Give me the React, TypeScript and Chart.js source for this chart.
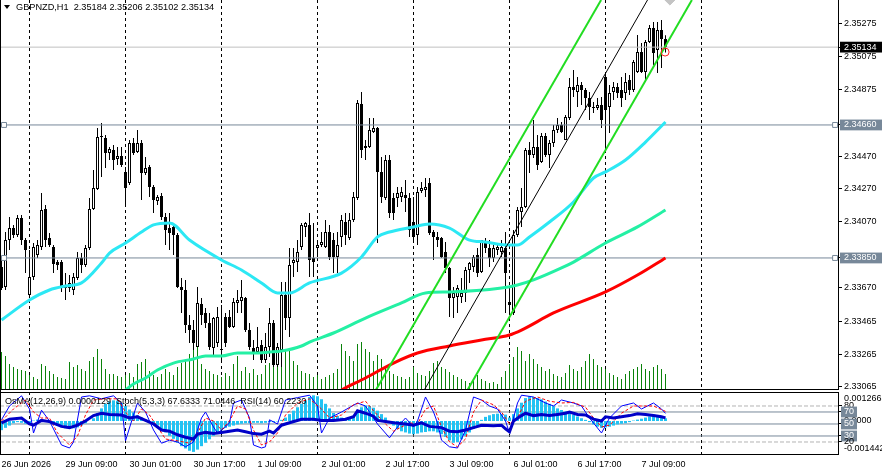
import React, { useEffect, useRef } from 'react';
import { Chart, registerables } from 'chart.js';

Chart.register(...registerables);

const FONT = "'Liberation Sans', Arial, sans-serif";

// ---- Candles GBPNZD H1 (bar 0 = 26 Jun 17:00) ----
const opens = [
  2.33795, 2.33673, 2.33959, 2.34032, 2.33990, 2.34093, 2.33959, 2.33624, 2.33734, 2.33868,
  2.33917, 2.34148, 2.33972, 2.33917, 2.33825, 2.33825, 2.33685, 2.33667, 2.33655, 2.33728,
  2.33850, 2.33807, 2.33911, 2.34148, 2.34270, 2.34587, 2.34581, 2.34489, 2.34507, 2.34453,
  2.34471, 2.34374, 2.34307, 2.34550, 2.34495, 2.34550, 2.34367, 2.34404, 2.34282, 2.34197,
  2.34227, 2.34099, 2.34032, 2.34039, 2.33990, 2.33673, 2.33655, 2.33442, 2.33411, 2.33308,
  2.33570, 2.33515, 2.33454, 2.33302, 2.33332, 2.33289, 2.33490, 2.33490, 2.33430, 2.33576,
  2.33588, 2.33606, 2.33411, 2.33302, 2.33277, 2.33320, 2.33229, 2.33308, 2.33454, 2.33198,
  2.33289, 2.33624, 2.33484, 2.33819, 2.33825, 2.33917, 2.34039, 2.34051, 2.33850, 2.33911,
  2.33929, 2.33917, 2.34008, 2.33959, 2.33856, 2.33978, 2.34069, 2.33972, 2.34081, 2.34215,
  2.34788, 2.34520, 2.34526, 2.34617, 2.34641, 2.34374, 2.34215, 2.34447, 2.34215, 2.34215,
  2.34221, 2.34233, 2.34215, 2.34069, 2.33990, 2.34258, 2.34264, 2.34307, 2.34008, 2.33978,
  2.33972, 2.33886, 2.33789, 2.33606, 2.33612, 2.33612, 2.33637, 2.33777, 2.33795, 2.33868,
  2.33765, 2.33947, 2.33911, 2.33850, 2.33898, 2.33886, 2.33911, 2.33582, 2.33515, 2.33990,
  2.34130, 2.34160, 2.34507, 2.34477, 2.34526, 2.34434, 2.34593, 2.34477, 2.34550, 2.34629,
  2.34660, 2.34568, 2.34702, 2.34891, 2.34861, 2.34903, 2.34873, 2.34824, 2.34769, 2.34763,
  2.34782, 2.34952, 2.34769, 2.34861, 2.34891, 2.34873, 2.34855, 2.34934, 2.34873, 2.34983,
  2.35104, 2.34983, 2.35165, 2.35250, 2.35116, 2.35238, 2.35184,
];
const highs = [
  2.33856, 2.34008, 2.34099, 2.34051, 2.34112, 2.34112, 2.33972, 2.33898, 2.33941, 2.33959,
  2.34246, 2.34173, 2.34002, 2.33929, 2.33838, 2.33838, 2.33758, 2.33746, 2.33758, 2.33886,
  2.33880, 2.33929, 2.34215, 2.34386, 2.34641, 2.34672, 2.34599, 2.34526, 2.34538, 2.34526,
  2.34526, 2.34404, 2.34568, 2.34581, 2.34629, 2.34568, 2.34465, 2.34416, 2.34294, 2.34233,
  2.34246, 2.34124, 2.34124, 2.34063, 2.34002, 2.33728, 2.33716, 2.33503, 2.33472, 2.33673,
  2.33606, 2.33545, 2.33515, 2.33490, 2.33551, 2.33564, 2.33515, 2.33533, 2.33606, 2.33655,
  2.33716, 2.33612, 2.33454, 2.33350, 2.33430, 2.33350, 2.33393, 2.33545, 2.33472, 2.33332,
  2.33704, 2.33704, 2.33911, 2.33911, 2.33959, 2.34063, 2.34069, 2.34124, 2.34063, 2.33959,
  2.34008, 2.34081, 2.34051, 2.34002, 2.34008, 2.34112, 2.34124, 2.34124, 2.34252, 2.34812,
  2.34861, 2.34568, 2.34702, 2.34702, 2.34648, 2.34465, 2.34477, 2.34477, 2.34246, 2.34282,
  2.34282, 2.34325, 2.34246, 2.34221, 2.34282, 2.34313, 2.34337, 2.34337, 2.34020, 2.34008,
  2.33978, 2.33947, 2.33795, 2.33673, 2.33685, 2.33728, 2.33795, 2.33825, 2.33868, 2.33911,
  2.33959, 2.33972, 2.33959, 2.33929, 2.33929, 2.33959, 2.34008, 2.33673, 2.34020, 2.34160,
  2.34276, 2.34520, 2.34556, 2.34690, 2.34599, 2.34611, 2.34611, 2.34568, 2.34660, 2.34702,
  2.34678, 2.34721, 2.34946, 2.34995, 2.34952, 2.34922, 2.34885, 2.34861, 2.34800, 2.34824,
  2.34830, 2.34964, 2.34903, 2.34922, 2.34916, 2.34952, 2.34976, 2.34964, 2.35056, 2.35208,
  2.35159, 2.35177, 2.35269, 2.35287, 2.35287, 2.35299, 2.35206,
];
const lows = [
  2.33655, 2.33655, 2.33898, 2.33972, 2.33978, 2.33929, 2.33758, 2.33606, 2.33716, 2.33850,
  2.33898, 2.33917, 2.33917, 2.33758, 2.33777, 2.33643, 2.33594, 2.33643, 2.33624, 2.33716,
  2.33758, 2.33795, 2.33898, 2.34142, 2.34264, 2.34343, 2.34398, 2.34447, 2.34386, 2.34416,
  2.34404, 2.34160, 2.34294, 2.34477, 2.34489, 2.34203, 2.34355, 2.34221, 2.34124, 2.34173,
  2.34081, 2.33929, 2.33898, 2.33868, 2.33667, 2.33515, 2.33393, 2.33332, 2.33289, 2.33308,
  2.33442, 2.33423, 2.33289, 2.33259, 2.33308, 2.33229, 2.33308, 2.33423, 2.33423, 2.33515,
  2.33515, 2.33399, 2.33289, 2.33229, 2.33271, 2.33210, 2.33210, 2.33247, 2.33186, 2.33186,
  2.33186, 2.33411, 2.33369, 2.33734, 2.33765, 2.33898, 2.33978, 2.33734, 2.33734, 2.33856,
  2.33917, 2.33911, 2.33838, 2.33758, 2.33758, 2.33917, 2.33929, 2.33959, 2.34069, 2.34203,
  2.34459, 2.34447, 2.34520, 2.34611, 2.33941, 2.34185, 2.34203, 2.34093, 2.34081, 2.34160,
  2.34191, 2.34130, 2.33978, 2.33941, 2.33929, 2.34246, 2.34221, 2.33990, 2.33838, 2.33917,
  2.33850, 2.33758, 2.33490, 2.33484, 2.33515, 2.33576, 2.33582, 2.33698, 2.33765, 2.33734,
  2.33758, 2.33880, 2.33795, 2.33825, 2.33868, 2.33856, 2.33515, 2.33521, 2.33503, 2.33978,
  2.34039, 2.34154, 2.34367, 2.34459, 2.34386, 2.34428, 2.34465, 2.34398, 2.34526, 2.34611,
  2.34611, 2.34568, 2.34690, 2.34830, 2.34769, 2.34782, 2.34751, 2.34690, 2.34733, 2.34751,
  2.34641, 2.34507, 2.34611, 2.34812, 2.34824, 2.34769, 2.34812, 2.34842, 2.34861, 2.34976,
  2.34976, 2.34922, 2.35159, 2.35025, 2.34976, 2.35007, 2.35102,
];
const closes = [
  2.33667, 2.33959, 2.34032, 2.33990, 2.34093, 2.33959, 2.33898, 2.33734, 2.33917, 2.33929,
  2.34142, 2.33959, 2.33929, 2.33813, 2.33807, 2.33667, 2.33667, 2.33698, 2.33734, 2.33850,
  2.33807, 2.33911, 2.34148, 2.34276, 2.34587, 2.34593, 2.34489, 2.34514, 2.34447, 2.34471,
  2.34416, 2.34276, 2.34550, 2.34489, 2.34550, 2.34367, 2.34398, 2.34282, 2.34203, 2.34221,
  2.34099, 2.34020, 2.34002, 2.33990, 2.33673, 2.33655, 2.33442, 2.33411, 2.33332, 2.33576,
  2.33503, 2.33454, 2.33308, 2.33484, 2.33490, 2.33296, 2.33332, 2.33430, 2.33582, 2.33594,
  2.33612, 2.33411, 2.33308, 2.33277, 2.33308, 2.33229, 2.33308, 2.33454, 2.33198, 2.33308,
  2.33624, 2.33484, 2.33807, 2.33838, 2.33886, 2.34051, 2.34063, 2.33838, 2.33825, 2.33929,
  2.33947, 2.34008, 2.33856, 2.33856, 2.33929, 2.34081, 2.33990, 2.34081, 2.34221, 2.34794,
  2.34507, 2.34532, 2.34629, 2.34641, 2.34374, 2.34221, 2.34447, 2.34124, 2.34124, 2.34246,
  2.34252, 2.34215, 2.34020, 2.33978, 2.34252, 2.34276, 2.34282, 2.34002, 2.33978, 2.33959,
  2.33856, 2.33789, 2.33606, 2.33637, 2.33667, 2.33637, 2.33777, 2.33819, 2.33856, 2.33758,
  2.33959, 2.33911, 2.33850, 2.33911, 2.33917, 2.33917, 2.33758, 2.33564, 2.33990, 2.34142,
  2.34160, 2.34507, 2.34477, 2.34526, 2.34416, 2.34593, 2.34477, 2.34550, 2.34629, 2.34660,
  2.34617, 2.34708, 2.34891, 2.34873, 2.34903, 2.34873, 2.34824, 2.34769, 2.34763, 2.34782,
  2.34690, 2.34751, 2.34855, 2.34891, 2.34855, 2.34824, 2.34922, 2.34873, 2.35043, 2.35104,
  2.34983, 2.35165, 2.35250, 2.35098, 2.35238, 2.35184, 2.35134,
];
const tickVolume = [
  37, 33, 25, 22, 20, 19, 18, 14, 12, 10, 25, 23, 18, 15, 12, 11, 10, 27, 22, 24,
  20, 18, 28, 32, 40, 30, 20, 15, 15, 13, 12, 14, 16, 12, 25, 27, 30, 18, 14, 12,
  15, 20, 17, 14, 22, 26, 30, 35, 42, 45, 25, 20, 18, 15, 14, 12, 16, 13, 25, 33,
  18, 22, 16, 20, 14, 15, 24, 26, 30, 22, 35, 40, 38, 28, 24, 18, 16, 15, 12, 14,
  10, 12, 14, 16, 20, 45, 38, 33, 28, 45, 47, 40, 37, 28, 34, 30, 22, 18, 15, 13,
  12, 10, 12, 22, 16, 14, 13, 18, 26, 28, 22, 20, 17, 14, 12, 10, 8, 6, 10, 14,
  10, 8, 6, 7, 5, 12, 18, 25, 32, 42, 38, 28, 35, 30, 25, 22, 18, 20, 15, 13,
  12, 16, 24, 20, 18, 22, 28, 35, 30, 24, 22, 20, 16, 14, 12, 10, 15, 18, 20, 22,
  25, 20, 18, 22, 24, 20, 15,
];

// ---- Moving averages (bar index, price) ----
const maFastIdx = [0, 7, 12, 16, 20, 25, 27, 31, 35, 38, 42, 47, 55, 60, 65, 69, 72, 77, 85, 90, 94, 97, 103, 107, 112, 117, 121, 126, 129, 132, 137, 143, 148, 151, 156, 161, 166];
const maFast = [2.33472, 2.33594, 2.33655, 2.33679, 2.33698, 2.33819, 2.33880, 2.33941, 2.34008, 2.34051, 2.34063, 2.33959, 2.33838, 2.33777, 2.33698, 2.33637, 2.33637, 2.33698, 2.33758, 2.33856, 2.33978, 2.34008, 2.34039, 2.34057, 2.34032, 2.33959, 2.33947, 2.33929, 2.33929, 2.33978, 2.34069, 2.34191, 2.34337, 2.34374, 2.34447, 2.34556, 2.34678];
const maMidIdx = [28, 33, 36, 39, 43, 48, 51, 55, 59, 63, 67, 70, 75, 77, 83, 91, 100, 106, 112, 125, 129, 133, 140, 143, 151, 159, 166];
const maMid = [2.32985, 2.33082, 2.33119, 2.33168, 2.33210, 2.33235, 2.33253, 2.33253, 2.33271, 2.33271, 2.33277, 2.33283, 2.33314, 2.33338, 2.33393, 2.33484, 2.33576, 2.33637, 2.33643, 2.33667, 2.33685, 2.33716, 2.33789, 2.33825, 2.33941, 2.34039, 2.34142];
const maSlowIdx = [80, 85, 91, 98, 104, 112, 120, 127, 130, 138, 151, 159, 166];
const maSlow = [2.32973, 2.33046, 2.33119, 2.33210, 2.33271, 2.33314, 2.33350, 2.33381, 2.33411, 2.33515, 2.33643, 2.33746, 2.33850];

// ---- Channel (two anchors each) ----
const chUpperIdx = [93.6, 149.9];
const chMiddleIdx = [105.7, 161.5];
const chLowerIdx = [116.5, 172.6];
const chPrices = [2.33046, 2.35421];

// ---- Horizontal levels / markers ----
const levelLines = [2.34660, 2.33850];
const bidPrice = 2.35134;
const levelMarkIdx = [0.625, 208.4];
const alertIdx = [165.9];
const alertPrice = [2.35104];
const arrowIdx = [167.1];
const arrowPrice = [2.35433];

// ---- Axes ----
const priceTicks = [2.35275, 2.35134, 2.35075, 2.34875, 2.34660, 2.34470, 2.34270, 2.34070, 2.33850, 2.33670, 2.33465, 2.33265, 2.33065];
const dayIdx = [7, 31, 55, 79, 103, 127, 151, 175];
const timeLabelIdx = [0, 16, 32, 48, 64, 80, 96, 112, 128, 144, 160];
const timeLabels = ['26 Jun 2026', '29 Jun 09:00', '30 Jun 01:00', '30 Jun 17:00', '1 Jul 09:00', '2 Jul 01:00', '2 Jul 17:00', '3 Jul 09:00', '6 Jul 01:00', '6 Jul 17:00', '7 Jul 09:00'];

// ---- Sub window: OsMA(12,26,9), Stoch(5,3,3), RSI(14) ----
const osma = [
  -0.00040, -0.00030, -0.00020, -0.00010, -0.00005, -0.00008, -0.00012, -0.00010, 0.00002, 0.00006,
  0.00008, 0.00004, -0.00008, -0.00015, -0.00022, -0.00028, -0.00032, -0.00035, -0.00032, -0.00028,
  -0.00020, -0.00010, 0.00000, 0.00012, 0.00035, 0.00055, 0.00075, 0.00085, 0.00090, 0.00088,
  0.00078, 0.00065, 0.00050, 0.00038, 0.00025, 0.00015, 0.00008, 0.00000, -0.00010, -0.00020,
  -0.00035, -0.00050, -0.00065, -0.00078, -0.00095, -0.00110, -0.00120, -0.00130, -0.00135, -0.00125,
  -0.00110, -0.00095, -0.00080, -0.00065, -0.00050, -0.00040, -0.00030, -0.00025, -0.00020, -0.00015,
  -0.00012, -0.00010, -0.00010, -0.00008, -0.00008, -0.00010, -0.00008, -0.00005, -0.00005, -0.00002,
  0.00005, 0.00015, 0.00030, 0.00045, 0.00060, 0.00075, 0.00090, 0.00105, 0.00112, 0.00108,
  0.00095, 0.00075, 0.00055, 0.00035, 0.00022, 0.00015, 0.00012, 0.00015, 0.00022, 0.00045,
  0.00060, 0.00068, 0.00066, 0.00058, 0.00045, 0.00030, 0.00015, -0.00005, -0.00020, -0.00035,
  -0.00045, -0.00050, -0.00055, -0.00058, -0.00055, -0.00050, -0.00048, -0.00045, -0.00045, -0.00050,
  -0.00058, -0.00070, -0.00085, -0.00095, -0.00092, -0.00080, -0.00065, -0.00050, -0.00035, -0.00020,
  0.00005, 0.00018, 0.00025, 0.00030, 0.00032, 0.00030, 0.00028, 0.00015, 0.00030, 0.00055,
  0.00080, 0.00100, 0.00108, 0.00105, 0.00100, 0.00095, 0.00085, 0.00075, 0.00065, 0.00055,
  0.00048, 0.00042, 0.00035, 0.00028, 0.00020, 0.00012, 0.00005, -0.00005, -0.00015, -0.00025,
  -0.00030, -0.00028, -0.00025, -0.00020, -0.00015, -0.00012, -0.00010, -0.00005, 0.00002, 0.00006,
  0.00010, 0.00015, 0.00020, 0.00022, 0.00020, 0.00015, 0.00012,
];
const stochIdx = [0, 2, 5, 7, 8, 10, 12, 15, 17, 18, 20, 22, 25, 28, 30, 31, 33, 34, 36, 38, 40, 42, 44, 46, 48, 50, 51, 53, 54, 56, 57, 58, 60, 62, 63, 65, 66, 67, 69, 71, 74, 77, 79, 80, 82, 85, 89, 91, 94, 97, 99, 101, 103, 104, 106, 108, 109, 110, 112, 114, 116, 118, 120, 122, 124, 126, 127, 129, 130, 133, 136, 138, 140, 143, 145, 147, 150, 152, 155, 158, 160, 163, 165, 166];
const stochMain = [57, 80, 97, 75, 35, 73, 55, 15, 10, 20, 95, 97, 92, 97, 85, 22, 65, 85, 70, 40, 18, 23, 20, 12, 20, 60, 70, 45, 35, 45, 52, 85, 90, 60, 15, 10, 12, 57, 50, 90, 94, 98, 80, 35, 60, 70, 85, 80, 50, 27, 45, 60, 45, 55, 95, 70, 52, 23, 12, 10, 40, 95, 90, 80, 75, 55, 35, 85, 98, 95, 85, 80, 90, 85, 80, 60, 35, 60, 80, 85, 75, 85, 75, 67.63];
const signalIdx = [0, 3, 6, 8, 10, 12, 14, 17, 19, 21, 23, 26, 29, 31, 33, 35, 37, 39, 41, 44, 47, 49, 51, 53, 55, 57, 59, 61, 63, 65, 67, 69, 71, 74, 77, 80, 82, 85, 88, 91, 93, 96, 98, 100, 102, 104, 106, 108, 110, 112, 114, 116, 118, 120, 123, 125, 127, 129, 131, 134, 137, 140, 143, 146, 148, 150, 152, 155, 158, 160, 163, 166];
const stochSignal = [55, 75, 90, 70, 60, 60, 35, 15, 30, 65, 90, 92, 92, 70, 55, 75, 65, 45, 25, 22, 18, 35, 60, 55, 40, 55, 80, 75, 40, 15, 20, 35, 65, 85, 92, 75, 60, 65, 82, 88, 72, 50, 38, 45, 52, 50, 75, 80, 45, 20, 12, 25, 70, 90, 82, 70, 50, 60, 88, 95, 88, 85, 86, 78, 60, 45, 48, 68, 80, 80, 80, 71.04];
const rsiIdx = [0, 2, 5, 7, 8, 10, 12, 15, 17, 19, 21, 23, 25, 27, 30, 32, 34, 36, 38, 40, 42, 44, 46, 48, 49, 51, 53, 55, 57, 59, 61, 63, 65, 67, 68, 70, 72, 75, 78, 80, 83, 86, 88, 89, 91, 93, 94, 96, 98, 101, 103, 105, 107, 110, 112, 114, 116, 118, 120, 123, 125, 126, 127, 128, 130, 131, 133, 135, 137, 139, 141, 142, 144, 146, 148, 150, 151, 153, 155, 157, 159, 161, 163, 165, 166];
const rsi = [52, 58, 60, 50, 48, 56, 54, 46, 44, 48, 55, 64, 68, 66, 65, 60, 62, 56, 50, 40, 38, 32, 28, 25, 33, 36, 34, 36, 38, 40, 37, 34, 33, 38, 35, 48, 52, 58, 58, 56, 56, 58, 62, 72, 68, 63, 56, 54, 52, 50, 48, 52, 46, 44, 38, 37, 40, 44, 48, 47, 48, 42, 37, 55, 64, 68, 64, 66, 64, 66, 68, 70, 66, 65, 58, 55, 62, 60, 62, 64, 67, 66, 64, 62, 60.22];
const stochLevels = [80, 20];
const rsiLevels = [70, 50, 30];
const OSMA_MIN = -0.001442;
const OSMA_MAX = 0.0012663;
const R_MAX = 103.33;
// right-axis labels of the sub window, in drawing order
const subAxisKinds = ['level', 'osma', 'osma', 'box', 'box', 'box', 'level', 'osma'];
const subAxisLabels = ['80', '0.0012663', '0.0000', '70', '50', '30', '20', '-0.001442'];
const subAxisValues = [80, 0.00098, 0, 70, 50, 30, 20, -0.00122];

const X_MIN = -0.375;
const X_MAX = 209.125;
const Y_MAX = 2.35421;
const Y_MIN = 2.33052;

const pts = (xs: number[], ys: number[]) => xs.map((x, i) => ({ x, y: ys[i] }));
const near = (a: number, b: number) => Math.abs(a - b) < 1e-7;
const markBg = (v: number) => (near(v, bidPrice) ? '#000000' : levelLines.some((l) => near(l, v)) ? '#778899' : 'rgba(0,0,0,0)');
const osmaToR = (v: number) => ((v - OSMA_MIN) / (OSMA_MAX - OSMA_MIN)) * R_MAX;
const subAxisPos = subAxisValues.map((v, i) => (subAxisKinds[i] === 'osma' ? osmaToR(v) : v));

export default function App() {
  const mainRef = useRef<HTMLCanvasElement>(null);
  const subRef = useRef<HTMLCanvasElement>(null);

  useEffect(() => {
    const line = (data: any[], color: string, width: number, order: number, extra: any = {}) => ({
      type: 'line', data, borderColor: color, borderWidth: width, pointRadius: 0, fill: false, order, ...extra,
    });

    const mainDatasets: any[] = [
      { type: 'bar', yAxisID: 'yVol', data: tickVolume.map((v, i) => ({ x: i, y: v })), backgroundColor: '#0a820a', borderColor: '#0a820a', barThickness: 1, grouped: false, inflateAmount: 0, borderWidth: 0, order: 20 },
      { type: 'bar', yAxisID: 'y', data: highs.map((h, i) => ({ x: i, y: [lows[i], h] })), backgroundColor: '#000000', barThickness: 1, grouped: false, inflateAmount: 0, borderWidth: 0, order: 19 },
      { type: 'bar', yAxisID: 'y', data: opens.map((o, i) => ({ x: i, y: [o, closes[i]] })), backgroundColor: opens.map((o, i) => (closes[i] >= o ? '#ffffff' : '#000000')), borderColor: '#000000', borderWidth: 1, borderSkipped: false, barThickness: 3, minBarLength: 1, grouped: false, inflateAmount: 0, order: 18 },
      ...levelLines.map((p) => line([{ x: X_MIN, y: p }, { x: X_MAX, y: p }], '#778899', 1, 12, { yAxisID: 'y' })),
      line([{ x: X_MIN, y: bidPrice }, { x: X_MAX, y: bidPrice }], '#c0c0c0', 1, 12, { yAxisID: 'y' }),
      line(pts(maFastIdx, maFast), '#2ce8f4', 3, 8, { yAxisID: 'y', cubicInterpolationMode: 'monotone' }),
      line(pts(maMidIdx, maMid), '#24f0a4', 3, 8, { yAxisID: 'y', cubicInterpolationMode: 'monotone' }),
      line(pts(maSlowIdx, maSlow), '#ff0000', 3, 8, { yAxisID: 'y', cubicInterpolationMode: 'monotone' }),
      line(pts(chUpperIdx, chPrices), '#22dd22', 2, 6, { yAxisID: 'y' }),
      line(pts(chMiddleIdx, chPrices), '#000000', 1, 6, { yAxisID: 'y' }),
      line(pts(chLowerIdx, chPrices), '#22dd22', 2, 6, { yAxisID: 'y' }),
      ...levelLines.map((p) => ({
        type: 'line', yAxisID: 'y', showLine: false, data: levelMarkIdx.map((x) => ({ x, y: p })),
        pointStyle: 'rect', pointRadius: 3.5, pointBackgroundColor: '#ffffff', pointBorderColor: '#778899', pointBorderWidth: 1, order: 2,
      })),
      { type: 'line', yAxisID: 'y', showLine: false, data: pts(alertIdx, alertPrice), pointStyle: 'circle', pointRadius: 4, pointBackgroundColor: 'rgba(0,0,0,0)', pointBorderColor: '#ff2020', pointBorderWidth: 1, order: 1 },
      { type: 'line', yAxisID: 'y', showLine: false, data: pts(arrowIdx, arrowPrice), pointStyle: 'rectRot', pointRadius: 7, pointBackgroundColor: '#c4c4c4', pointBorderColor: '#c4c4c4', pointBorderWidth: 1, order: 1 },
    ];

    const main = new Chart(mainRef.current as HTMLCanvasElement, {
      type: 'bar',
      data: { datasets: mainDatasets },
      options: {
        responsive: false,
        animation: false,
        events: [],
        layout: { padding: 0, autoPadding: false },
        plugins: { legend: { display: false }, tooltip: { enabled: false }, title: { display: false }, colors: { enabled: false } },
        scales: {
          x: {
            type: 'linear', min: X_MIN, max: X_MAX, offset: false,
            afterBuildTicks: (s: any) => { s.ticks = dayIdx.map((v) => ({ value: v })); },
            afterFit: (s: any) => { s.height = 1; s.paddingLeft = 0; s.paddingRight = 0; },
            ticks: { display: false },
            grid: { offset: false, drawTicks: false, color: '#000000', lineWidth: 1 },
            border: { display: true, color: '#000000', dash: [3, 3] },
          },
          y: {
            type: 'linear', position: 'right', min: Y_MIN, max: Y_MAX,
            afterBuildTicks: (s: any) => { s.ticks = priceTicks.map((v) => ({ value: v })); },
            afterFit: (s: any) => { s.width = 44; s.paddingTop = 0; s.paddingBottom = 0; },
            ticks: {
              autoSkip: false, padding: 2,
              font: { family: FONT, size: 9 },
              color: (c: any) => (markBg(c.tick ? c.tick.value : 0) === 'rgba(0,0,0,0)' ? '#000000' : '#ffffff'),
              callback: (v: any) => Number(v).toFixed(5),
              showLabelBackdrop: true,
              backdropColor: (c: any) => markBg(c.tick ? c.tick.value : 0),
              backdropPadding: { left: 4, right: 6, top: 0, bottom: 0 },
            },
            grid: { drawOnChartArea: false, drawTicks: true, tickLength: 4, color: '#000000' },
            border: { display: true, color: '#000000' },
          },
          yVol: { type: 'linear', display: false, min: 0, max: 390 },
        },
      } as any,
    });

    const allXTicks = [...timeLabelIdx, ...dayIdx].sort((a, b) => a - b);
    const subDatasets: any[] = [
      ...stochLevels.map((l) => line([{ x: X_MIN, y: l }, { x: X_MAX, y: l }], '#b4b4b4', 1, 12, { yAxisID: 'yR', borderDash: [4, 2] })),
      ...rsiLevels.map((l) => line([{ x: X_MIN, y: l }, { x: X_MAX, y: l }], '#778899', 1, 12, { yAxisID: 'yR' })),
      { type: 'bar', yAxisID: 'yO', data: osma.map((v, i) => ({ x: i, y: v })), backgroundColor: '#22c3f3', barThickness: 3, grouped: false, inflateAmount: 0, borderWidth: 0, order: 10 },
      line(pts(stochIdx, stochMain), '#0000ff', 1, 3, { yAxisID: 'yR' }),
      line(pts(signalIdx, stochSignal), '#ff0000', 1, 2, { yAxisID: 'yR', borderDash: [3, 2] }),
      line(pts(rsiIdx, rsi), '#0000c8', 3, 1, { yAxisID: 'yR' }),
    ];

    const kindAt = (c: any) => subAxisKinds[c.index] || 'level';

    const sub = new Chart(subRef.current as HTMLCanvasElement, {
      type: 'bar',
      data: { datasets: subDatasets },
      options: {
        responsive: false,
        animation: false,
        events: [],
        layout: { padding: { top: 2, left: 0, right: 0, bottom: 0 }, autoPadding: false },
        plugins: { legend: { display: false }, tooltip: { enabled: false }, title: { display: false }, colors: { enabled: false } },
        scales: {
          x: {
            type: 'linear', min: X_MIN, max: X_MAX, offset: false,
            afterBuildTicks: (s: any) => { s.ticks = allXTicks.map((v) => ({ value: v })); },
            afterFit: (s: any) => { s.height = 22; s.paddingLeft = 0; s.paddingRight = 0; },
            ticks: {
              autoSkip: false, maxRotation: 0, minRotation: 0, align: 'start', padding: 5,
              font: { family: FONT, size: 9 }, color: '#000000',
              callback: (v: any) => { const k = timeLabelIdx.indexOf(Number(v)); return k >= 0 ? timeLabels[k] : ''; },
            },
            grid: { offset: false, drawTicks: false, lineWidth: 1, color: (c: any) => (c.tick && dayIdx.includes(c.tick.value) ? '#000000' : 'rgba(0,0,0,0)') },
            border: { display: true, color: '#000000', dash: [3, 3] },
          },
          yO: { type: 'linear', display: false, min: OSMA_MIN, max: OSMA_MAX },
          yR: {
            type: 'linear', position: 'right', min: 0, max: R_MAX,
            afterBuildTicks: (s: any) => { s.ticks = subAxisPos.map((v) => ({ value: v })); },
            afterFit: (s: any) => { s.width = 44; s.paddingTop = 0; s.paddingBottom = 0; },
            ticks: {
              autoSkip: false, padding: 2, font: { family: FONT, size: 9 },
              color: (c: any) => (kindAt(c) === 'box' ? '#ffffff' : '#000000'),
              callback: (_v: any, i: number) => subAxisLabels[i],
              showLabelBackdrop: true,
              backdropColor: (c: any) => (kindAt(c) === 'box' ? '#778899' : 'rgba(0,0,0,0)'),
              backdropPadding: { left: 3, right: 3, top: 0, bottom: 0 },
            },
            grid: { drawOnChartArea: false, drawTicks: true, tickLength: 4, color: (c: any) => (kindAt(c) === 'osma' ? 'rgba(0,0,0,0)' : '#000000') },
            border: { display: true, color: '#000000' },
          },
        },
      } as any,
    });

    return () => { main.destroy(); sub.destroy(); };
  }, []);

  const txt: React.CSSProperties = { position: 'absolute', fontFamily: FONT, color: '#000', whiteSpace: 'pre', lineHeight: 1, margin: 0 };

  return (
    <div style={{ position: 'absolute', left: 0, top: 0, width: 882, height: 476, background: '#ffffff', overflow: 'hidden' }}>
      <canvas ref={mainRef} width={882} height={390} style={{ position: 'absolute', left: 0, top: 0, display: 'block' }} />
      <canvas ref={subRef} width={882} height={86} style={{ position: 'absolute', left: 0, top: 390, display: 'block' }} />
      <div style={{ position: 'absolute', left: 0, top: 0, width: 1, height: 454, background: '#000' }} />
      <div style={{ position: 'absolute', left: 0, top: 392, width: 838, height: 1, background: '#000' }} />
      <div style={{ position: 'absolute', left: 4, top: 5, width: 0, height: 0, borderLeft: '3px solid transparent', borderRight: '3px solid transparent', borderTop: '4px solid #000' }} />
      <div style={{ ...txt, left: 16, top: 3, fontSize: 9.2 }}>GBPNZD,H1  2.35184 2.35206 2.35102 2.35134</div>
      <div style={{ ...txt, left: 5, top: 397, fontSize: 9 }}>OsMA(12,26,9) 0.0000129  Stoch(5,3,3) 67.6333 71.0446  RSI(14) 60.2230</div>
    </div>
  );
}
